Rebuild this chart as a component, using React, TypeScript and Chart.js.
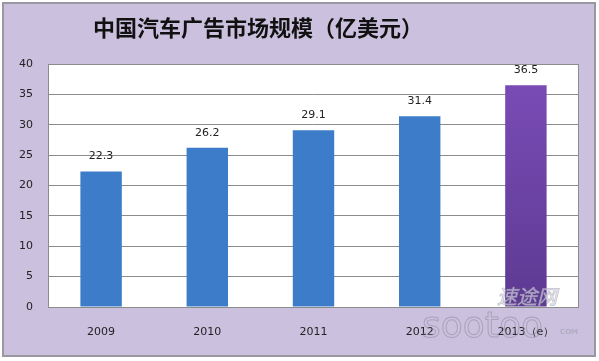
import React, { useEffect, useRef } from "react";
import { Chart, registerables } from "chart.js";

Chart.register(...registerables);

const TITLE = "中国汽车广告市场规模（亿美元）";
const categories = ["2009", "2010", "2011", "2012", "2013（e）"];
const values = [22.3, 26.2, 29.1, 31.4, 36.5];
const yTicks = [0, 5, 10, 15, 20, 25, 30, 35, 40];

const backgroundPlugin = {
  id: "bgPlugin",
  beforeDraw(chart: any) {
    const { ctx, width, height, chartArea } = chart;
    ctx.save();
    ctx.fillStyle = "#ffffff";
    ctx.fillRect(0, 0, width, height);
    ctx.fillStyle = "#cbc1df";
    ctx.fillRect(3, 3, 592, 353);
    ctx.strokeStyle = "#9a97a0";
    ctx.lineWidth = 2;
    ctx.strokeRect(3, 3, 592, 353);
    ctx.fillStyle = "#ffffff";
    ctx.fillRect(chartArea.left, chartArea.top, chartArea.right - chartArea.left, chartArea.bottom - chartArea.top);
    // title
    ctx.fillStyle = "#111111";
    ctx.font = "bold 22px 'Noto Sans CJK SC'";
    ctx.textAlign = "center";
    ctx.textBaseline = "middle";
    ctx.fillText(TITLE, 258, 28);
    ctx.restore();
  },
  afterDraw(chart: any) {
    const { ctx, chartArea } = chart;
    ctx.save();
    ctx.strokeStyle = "#8c8c8c";
    ctx.lineWidth = 1;
    ctx.strokeRect(chartArea.left + 0.5, chartArea.top + 0.5, chartArea.right - chartArea.left - 1, chartArea.bottom - chartArea.top);
    // value labels
    const meta = chart.getDatasetMeta(0);
    ctx.fillStyle = "#222222";
    ctx.font = "11px 'DejaVu Sans'";
    ctx.textAlign = "center";
    ctx.textBaseline = "middle";
    meta.data.forEach((bar: any, i: number) => {
      ctx.fillText(String(values[i]), bar.x, bar.y - 15);
    });
    // watermark
    ctx.globalAlpha = 0.55;
    ctx.font = "italic 20px 'Noto Sans CJK SC'";
    ctx.fillStyle = "#e8e4f0";
    ctx.strokeStyle = "#8a8a9a";
    ctx.lineWidth = 1;
    ctx.textAlign = "left";
    ctx.strokeText("速途网", 497, 296);
    ctx.fillText("速途网", 497, 296);
    ctx.font = "36px 'DejaVu Sans'";
    ctx.strokeText("sootoo", 422, 328);
    ctx.font = "bold 7px 'DejaVu Sans'";
    ctx.fillStyle = "#9a9aa8";
    ctx.fillText("COM", 560, 332);
    ctx.restore();
  },
};

export default function App() {
  const ref = useRef<HTMLCanvasElement>(null);
  useEffect(() => {
    document.body.style.margin = "0";
    const canvas = ref.current!;
    const ctx = canvas.getContext("2d")!;
    const purple = ctx.createLinearGradient(0, 64, 0, 307);
    purple.addColorStop(0, "#7b4db8");
    purple.addColorStop(1, "#5e3a93");
    const colors = values.map((_, i) => (i === values.length - 1 ? purple : "#3d7cc9"));
    const chart = new Chart(canvas, {
      type: "bar",
      data: {
        labels: categories,
        datasets: [
          {
            data: values,
            backgroundColor: colors as any,
            borderWidth: 0,
            categoryPercentage: 1,
            barPercentage: 0.39,
          },
        ],
      },
      options: {
        animation: false,
        responsive: false,
        maintainAspectRatio: false,
        layout: { padding: { left: 0, right: 20, top: 64, bottom: 0 } },
        plugins: {
          legend: { display: false },
          title: { display: false },
          tooltip: { enabled: false },
        },
        scales: {
          x: {
            grid: { display: false, drawTicks: false },
            border: { display: false },
            ticks: {
              color: "#222222",
              font: { family: "'DejaVu Sans'", size: 11 },
              padding: 19,
              maxRotation: 0,
            },
            afterFit(scale: any) {
              scale.height = 54;
            },
          },
          y: {
            min: 0,
            max: 40,
            afterBuildTicks(scale: any) {
              scale.ticks = yTicks.map((v) => ({ value: v }));
            },
            grid: { color: "#8c8c8c", drawTicks: false, lineWidth: 1 },
            border: { display: false },
            ticks: {
              color: "#222222",
              font: { family: "'DejaVu Sans'", size: 11 },
              padding: 15,
            },
            afterFit(scale: any) {
              scale.width = 48;
            },
          },
        },
      },
      plugins: [backgroundPlugin],
    });
    return () => chart.destroy();
  }, []);
  return <canvas ref={ref} width={599} height={361} style={{ display: "block" }} />;
}
